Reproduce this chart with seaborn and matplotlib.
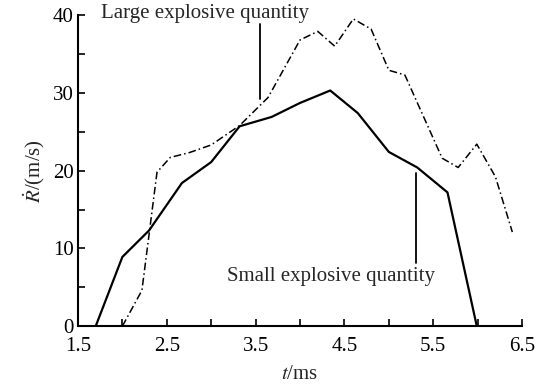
import matplotlib
matplotlib.use('Agg')
import pandas as pd
import matplotlib.pyplot as plt
import seaborn as sns
from matplotlib.ticker import MultipleLocator

# datos
t_small = [1.70, 2.00, 2.30, 2.67, 3.00, 3.32, 3.68, 4.00, 4.34, 4.65, 5.00, 5.32, 5.66, 5.99]
r_small = [0.0, 8.9, 12.3, 18.4, 21.1, 25.7, 26.9, 28.7, 30.3, 27.4, 22.4, 20.4, 17.2, 0.0]

t_large = [2.00, 2.22, 2.39, 2.54, 2.75, 3.00, 3.32, 3.64, 4.00, 4.20, 4.39, 4.60, 4.80,
           5.00, 5.18, 5.60, 5.78, 5.99, 6.20, 6.39]
r_large = [0.0, 4.6, 19.8, 21.7, 22.3, 23.3, 25.8, 29.4, 36.8, 37.9, 36.0, 39.5, 38.2,
           32.9, 32.3, 21.6, 20.4, 23.4, 19.2, 12.1]

xticks = [1.5, 2.5, 3.5, 4.5, 5.5, 6.5]
yticks = [0, 10, 20, 30, 40]

df_small = pd.DataFrame({'t': t_small, 'R': r_small})
df_large = pd.DataFrame({'t': t_large, 'R': r_large})

sns.set_style('ticks')
plt.rcParams['font.family'] = ['Liberation Serif', 'DejaVu Serif']
plt.rcParams['mathtext.fontset'] = 'stix'

fig = plt.figure(figsize=(5.49, 3.86), dpi=100)
ax = fig.add_axes([0.142, 0.155, 0.809, 0.806])

sns.lineplot(data=df_small, x='t', y='R', ax=ax, color='black', lw=1.6, sort=False)
sns.lineplot(data=df_large, x='t', y='R', ax=ax, color='black', lw=1.1, sort=False,
             linestyle=(0, (5, 2, 1, 2)))

ax.set_xlim(1.5, 6.5)
ax.set_ylim(0, 40)
ax.set_xticks(xticks)
ax.set_yticks(yticks)
ax.xaxis.set_minor_locator(MultipleLocator(0.5))
ax.yaxis.set_minor_locator(MultipleLocator(5))
ax.tick_params(which='both', direction='in', length=5, width=1.2, labelsize=15, colors='black')
ax.tick_params(axis='x', pad=8)
ax.tick_params(axis='y', pad=3)
for s in ['top', 'right']:
    ax.spines[s].set_visible(False)
for s in ['left', 'bottom']:
    ax.spines[s].set_linewidth(1.5)
    ax.spines[s].set_color('black')

ax.set_xlabel(r'$t$/ms', fontsize=15, labelpad=6)
ax.set_ylabel(r'$\dot{R}$/(m/s)', fontsize=15, labelpad=4)

# anotaciones
ax.text(2.93, 40.2, 'Large explosive quantity', fontsize=15, ha='center', va='center', clip_on=False)
ax.plot([3.55, 3.55], [38.9, 29.2], color='black', lw=1.3)
ax.text(4.35, 6.4, 'Small explosive quantity', fontsize=15, ha='center', va='center')
ax.plot([5.31, 5.31], [19.7, 8.1], color='black', lw=1.3)

fig.savefig('out.png', dpi=100)
